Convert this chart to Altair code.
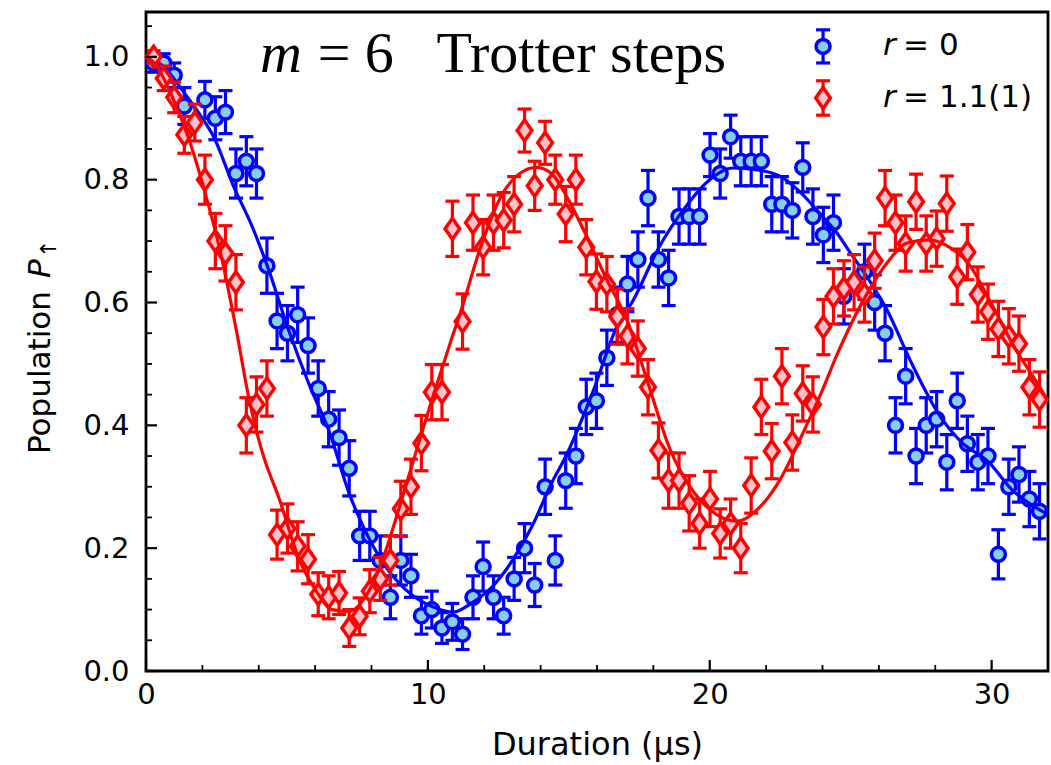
import altair as alt
import pandas as pd

# ---------------- data ----------------
DURATION = [0.27, 0.63, 1.0, 1.36, 1.73, 2.09, 2.46, 2.82, 3.19, 3.56,
            3.92, 4.29, 4.65, 5.02, 5.38, 5.75, 6.11, 6.48, 6.85, 7.21,
            7.58, 7.94, 8.31, 8.67, 9.04, 9.40, 9.77, 10.14, 10.50, 10.87,
            11.23, 11.60, 11.96, 12.33, 12.69, 13.06, 13.43, 13.79, 14.16, 14.52,
            14.89, 15.25, 15.62, 15.98, 16.35, 16.72, 17.08, 17.45, 17.81, 18.18,
            18.54, 18.91, 19.27, 19.64, 20.01, 20.37, 20.74, 21.10, 21.47, 21.83,
            22.20, 22.56, 22.93, 23.30, 23.66, 24.03, 24.39, 24.76, 25.12, 25.49,
            25.85, 26.22, 26.59, 26.95, 27.32, 27.68, 28.05, 28.41, 28.78, 29.14,
            29.51, 29.87, 30.24, 30.61, 30.97, 31.34, 31.70]

# r = 0 (blue circles); None = point hidden in the reference
P_R0 = [0.99, 0.99, 0.97, 0.92, None, 0.93, 0.90, 0.91, 0.81, 0.83,
        0.81, 0.66, 0.57, 0.55, 0.58, 0.53, 0.46, 0.41, 0.38, 0.33,
        0.22, 0.22, 0.18, 0.12, 0.18, 0.155, 0.09, 0.10, 0.07, 0.08,
        0.06, 0.12, 0.17, 0.12, 0.09, 0.15, 0.20, 0.14, 0.30, 0.18,
        0.31, 0.35, 0.43, 0.44, 0.51, 0.58, 0.63, 0.67, 0.77, 0.67,
        0.64, 0.74, 0.74, 0.74, 0.84, 0.81, 0.87, 0.83, 0.83, 0.83,
        0.76, 0.76, 0.75, 0.82, 0.74, 0.71, 0.73, 0.61, None, 0.65,
        0.60, 0.55, 0.40, 0.48, 0.35, 0.40, 0.41, 0.34, 0.44, 0.37,
        0.34, 0.35, 0.19, 0.30, 0.32, 0.28, 0.26]
ERR_R0 = [0.015, 0.015, 0.02, 0.03, 0.03, 0.03, 0.035, 0.035, 0.04, 0.04,
          0.04, 0.045, 0.045, 0.045, 0.045, 0.045, 0.045, 0.045, 0.045, 0.045,
          0.04, 0.04, 0.04, 0.035, 0.04, 0.035, 0.03, 0.03, 0.025, 0.03,
          0.025, 0.035, 0.04, 0.035, 0.03, 0.035, 0.04, 0.035, 0.045, 0.04,
          0.045, 0.045, 0.045, 0.045, 0.045, 0.045, 0.045, 0.045, 0.045, 0.045,
          0.045, 0.045, 0.045, 0.045, 0.035, 0.04, 0.035, 0.04, 0.04, 0.04,
          0.045, 0.045, 0.045, 0.04, 0.045, 0.045, 0.045, 0.045, 0.045, 0.045,
          0.045, 0.045, 0.045, 0.045, 0.045, 0.045, 0.045, 0.045, 0.045, 0.045,
          0.045, 0.045, 0.04, 0.045, 0.045, 0.045, 0.045]

# r = 1.1(1) (red diamonds)
P_R11 = [1.0, 0.965, 0.934, 0.873, 0.893, 0.80, 0.70, 0.68, 0.633, 0.40,
         0.434, 0.46, 0.222, 0.232, 0.203, 0.182, 0.125, 0.12, 0.127, 0.07,
         0.089, 0.13, 0.15, 0.18, 0.264, 0.30, 0.371, 0.454, 0.454, 0.72,
         0.569, 0.73, 0.69, 0.73, 0.734, 0.76, 0.88, 0.79, 0.86, 0.80,
         0.744, 0.80, 0.69, 0.634, 0.63, 0.577, 0.545, 0.525, 0.462, 0.359,
         0.31, 0.31, 0.273, 0.24, 0.28, 0.224, 0.24, 0.20, 0.302, 0.43,
         0.358, 0.48, 0.372, 0.452, 0.434, 0.56, 0.61, 0.623, 0.633, 0.613,
         0.668, 0.77, 0.73, 0.696, 0.764, 0.696, 0.704, 0.761, 0.642, 0.682,
         0.613, 0.585, 0.557, 0.545, 0.533, 0.462, 0.442]
ERR_R11 = [0.01, 0.02, 0.025, 0.03, 0.03, 0.04, 0.045, 0.045, 0.045, 0.045,
           0.045, 0.045, 0.04, 0.04, 0.04, 0.04, 0.035, 0.035, 0.035, 0.03,
           0.03, 0.035, 0.035, 0.04, 0.045, 0.045, 0.045, 0.045, 0.045, 0.045,
           0.045, 0.045, 0.045, 0.045, 0.045, 0.045, 0.035, 0.04, 0.035, 0.04,
           0.045, 0.04, 0.045, 0.045, 0.045, 0.045, 0.045, 0.045, 0.045, 0.045,
           0.045, 0.045, 0.045, 0.04, 0.045, 0.04, 0.04, 0.04, 0.045, 0.045,
           0.045, 0.045, 0.045, 0.045, 0.045, 0.045, 0.045, 0.045, 0.045, 0.045,
           0.045, 0.045, 0.045, 0.045, 0.045, 0.045, 0.045, 0.045, 0.045, 0.045,
           0.045, 0.045, 0.045, 0.045, 0.045, 0.045, 0.045]

# fitted curves
FIT_R0_X = [0, 0.6, 1.3, 2.0, 2.4, 3.1, 3.8, 4.3, 5.1, 5.8,
            6.5, 7.2, 7.7, 8.4, 9.2, 10.2, 10.9, 11.6, 12.3, 13.0,
            13.7, 14.4, 14.9, 15.85, 16.7, 17.3, 18.2, 19.05, 20.0, 20.8,
            21.7, 22.6, 23.2, 24.0, 24.4, 25.0, 25.6, 26.3, 27.1, 28.1,
            28.9, 29.9, 30.7, 31.5, 32.0]
FIT_R0_Y = [1.0, 0.985, 0.945, 0.90, 0.87, 0.79, 0.72, 0.66, 0.55, 0.465,
            0.39, 0.29, 0.236, 0.177, 0.133, 0.104, 0.096, 0.112, 0.138, 0.18,
            0.236, 0.307, 0.35, 0.454, 0.56, 0.605, 0.69, 0.75, 0.80, 0.819,
            0.816, 0.803, 0.78, 0.74, 0.72, 0.68, 0.64, 0.587, 0.507, 0.42,
            0.374, 0.34, 0.296, 0.268, 0.255]
FIT_R11_X = [0, 0.3, 0.93, 1.53, 2.13, 2.6, 3.2, 3.66, 4.1, 4.73,
             5.45, 6.04, 6.6, 7.2, 7.8, 8.4, 9.0, 9.6, 10.2, 10.8,
             11.2, 11.84, 12.66, 13.26, 13.86, 14.43, 14.93, 15.64, 16.35, 17.06,
             17.8, 18.6, 19.3, 20.0, 20.97, 21.8, 22.5, 23.2, 23.9, 24.6,
             25.6, 26.3, 27.0, 27.8, 28.5, 29.15, 29.97, 30.8, 31.6, 32.0]
FIT_R11_Y = [1.0, 0.99, 0.935, 0.865, 0.773, 0.69, 0.556, 0.442, 0.36, 0.28,
             0.18, 0.13, 0.10, 0.097, 0.122, 0.182, 0.268, 0.36, 0.45, 0.535,
             0.59, 0.686, 0.778, 0.81, 0.82, 0.808, 0.772, 0.707, 0.637, 0.572,
             0.47, 0.36, 0.30, 0.263, 0.244, 0.268, 0.312, 0.377, 0.447, 0.524,
             0.616, 0.665, 0.697, 0.702, 0.69, 0.665, 0.60, 0.528, 0.47, 0.44]

X_MAJOR = [0, 10, 20, 30]
X_MINOR = [2, 4, 6, 8, 12, 14, 16, 18, 22, 24, 26, 28]
Y_MAJOR = [0.0, 0.2, 0.4, 0.6, 0.8, 1.0]
Y_MINOR = [0.05, 0.1, 0.15, 0.25, 0.3, 0.35, 0.45, 0.5, 0.55, 0.65, 0.7, 0.75,
           0.85, 0.9, 0.95, 1.05]

LEGEND_LABELS = ["= 0", "= 1.1(1)"]
LEGEND_X = [24.02, 24.02]
LEGEND_Y = [1.017, 0.933]
LEGEND_ERR = [0.027, 0.028]

TITLE_PARTS = ["m", "= 6", "Trotter steps"]

# ---------------- styling ----------------
W, H = 902, 659
BLUE, SKY = "#0000ff", "#87ceeb"
RED, PINK = "#ff0000", "#ffc0cb"
DIAMOND = "M0,-1L0.7,0L0,1L-0.7,0Z"
LW = 3.2

XS = alt.Scale(domain=[0, 32], nice=False, zero=False)
YS = alt.Scale(domain=[0, 1.073], nice=False, zero=False)

X_AX = alt.Axis(values=X_MAJOR, format="d", ticks=False, domain=False, grid=False,
                labelFlush=False, labelFont="DejaVu Sans", labelFontSize=29,
                labelColor="black", labelPadding=9, title="Duration (μs)",
                titleFont="DejaVu Sans", titleFontSize=32, titleFontWeight="normal",
                titleColor="black", titlePadding=20)
Y_AX = alt.Axis(values=Y_MAJOR, format=".1f", ticks=False, domain=False, grid=False,
                labelFlush=False, labelFont="DejaVu Sans", labelFontSize=29,
                labelColor="black", labelPadding=17, title=None)


def X(field):
    return alt.X(f"{field}:Q", scale=XS, axis=X_AX)


def Y(field):
    return alt.Y(f"{field}:Q", scale=YS, axis=Y_AX)


def series_df(yvals, err):
    rows = [(x, v, v - e, v + e) for x, v, e in zip(DURATION, yvals, err) if v is not None]
    return pd.DataFrame(rows, columns=["x", "y", "lo", "hi"])


def data_layers(df, color, fill, shape, size):
    base = alt.Chart(df)
    bars = base.mark_rule(color=color, strokeWidth=LW).encode(
        x=X("x"), y=Y("lo"), y2="hi:Q")
    cap_lo = base.mark_tick(color=color, orient="horizontal", size=14, thickness=LW,
                            opacity=1).encode(x=X("x"), y=Y("lo"))
    cap_hi = base.mark_tick(color=color, orient="horizontal", size=14, thickness=LW,
                            opacity=1).encode(x=X("x"), y=Y("hi"))
    pts = base.mark_point(shape=shape, size=size, filled=True, fill=fill, stroke=color,
                          strokeWidth=3.5, opacity=1, fillOpacity=1,
                          strokeOpacity=1).encode(x=X("x"), y=Y("y"))
    return [bars, cap_lo, cap_hi, pts]


def fit_layer(xs, ys, color):
    df = pd.DataFrame({"x": xs, "y": ys})
    return alt.Chart(df).mark_line(color=color, strokeWidth=LW,
                                   interpolate="monotone").encode(x=X("x"), y=Y("y"))


blue_df = series_df(P_R0, ERR_R0)
red_df = series_df(P_R11, ERR_R11)

CIRCLE_SIZE = 195
DIAMOND_SIZE = 440

layers = []
layers += data_layers(blue_df, BLUE, SKY, "circle", CIRCLE_SIZE)
layers.append(fit_layer(FIT_R0_X, FIT_R0_Y, BLUE))
layers += data_layers(red_df, RED, PINK, DIAMOND, DIAMOND_SIZE)
layers.append(fit_layer(FIT_R11_X, FIT_R11_Y, RED))

# legend (custom, markers with error bars)
leg_b = pd.DataFrame({"x": [LEGEND_X[0]], "y": [LEGEND_Y[0]],
                      "lo": [LEGEND_Y[0] - LEGEND_ERR[0]], "hi": [LEGEND_Y[0] + LEGEND_ERR[0]]})
leg_r = pd.DataFrame({"x": [LEGEND_X[1]], "y": [LEGEND_Y[1]],
                      "lo": [LEGEND_Y[1] - LEGEND_ERR[1]], "hi": [LEGEND_Y[1] + LEGEND_ERR[1]]})
layers += data_layers(leg_b, BLUE, SKY, "circle", CIRCLE_SIZE)
layers += data_layers(leg_r, RED, PINK, DIAMOND, DIAMOND_SIZE)

leg_txt = pd.DataFrame({"t": LEGEND_LABELS, "y": LEGEND_Y, "xr": [26.15, 26.15],
                        "xe": [26.86, 26.86]})
layers.append(alt.Chart(leg_txt).mark_text(
    text="r", font="DejaVu Sans", fontStyle="italic", fontSize=31, align="left",
    baseline="middle", color="black").encode(x=X("xr"), y=Y("y")))
layers.append(alt.Chart(leg_txt).mark_text(
    font="DejaVu Sans", fontSize=31, align="left", baseline="middle",
    color="black").encode(x=X("xe"), y=Y("y"), text="t:N"))

# title inside the plot
title_df = pd.DataFrame({"t": TITLE_PARTS, "x": [4.04, 6.09, 10.31], "y": [0.9756] * 3})
layers.append(alt.Chart(title_df.iloc[[0]]).mark_text(
    font="Liberation Serif", fontStyle="italic", fontSize=58, align="left",
    baseline="alphabetic", color="black").encode(x=X("x"), y=Y("y"), text="t:N"))
layers.append(alt.Chart(title_df.iloc[[1, 2]]).mark_text(
    font="Liberation Serif", fontSize=58, align="left", baseline="alphabetic",
    color="black").encode(x=X("x"), y=Y("y"), text="t:N"))

# y-axis title "Population P↑" (rotated)
ytitle = pd.DataFrame({"a": [0]})
layers.append(alt.Chart(ytitle).mark_text(
    text="Population", font="DejaVu Sans", fontSize=31, angle=270, align="left",
    baseline="alphabetic", color="black").encode(x=alt.value(-96), y=alt.value(442)))
layers.append(alt.Chart(ytitle).mark_text(
    text="P", font="DejaVu Sans", fontStyle="italic", fontSize=31, angle=270,
    align="left", baseline="alphabetic", color="black").encode(
    x=alt.value(-96), y=alt.value(266)))
layers.append(alt.Chart(ytitle).mark_text(
    text="↑", font="DejaVu Sans", fontSize=22, angle=270, align="left",
    baseline="alphabetic", color="black").encode(x=alt.value(-90), y=alt.value(246)))


# inward ticks
def vticks(vals, length, width):
    df = pd.DataFrame({"v": vals})
    return alt.Chart(df).mark_rule(color="black", strokeWidth=width).encode(
        x=X("v"), y=alt.value(H), y2=alt.value(H - length))


def hticks(vals, length, width):
    df = pd.DataFrame({"v": vals})
    return alt.Chart(df).mark_rule(color="black", strokeWidth=width).encode(
        y=Y("v"), x=alt.value(0), x2=alt.value(length))


layers += [vticks(X_MAJOR, 11, 2.2), vticks(X_MINOR, 6, 1.8),
           hticks(Y_MAJOR, 11, 2.2), hticks(Y_MINOR, 6, 1.8)]

chart = alt.layer(*layers).properties(
    width=W, height=H,
    autosize=alt.AutoSizeParams(type="none"),
    padding={"left": 146, "top": 12, "right": 3, "bottom": 94},
    background="white",
).configure_view(stroke="black", strokeWidth=2.8)

chart.save("out.html", embed_options={"renderer": "svg", "actions": False})
